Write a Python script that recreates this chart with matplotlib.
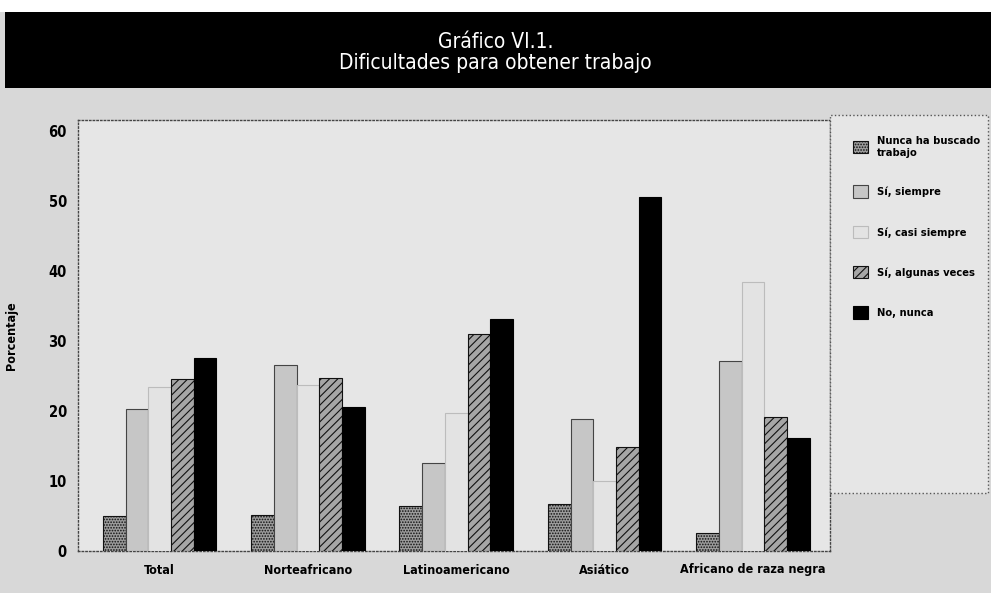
import numpy as np
import matplotlib
matplotlib.use("Agg")
import matplotlib.pyplot as plt
from matplotlib.patches import Rectangle

plt.rcParams['font.family'] = ['Liberation Sans Narrow', 'DejaVu Sans Condensed', 'DejaVu Sans']
plt.rcParams['font.stretch'] = 'condensed'
plt.rcParams['hatch.linewidth'] = 0.8

groups = ["Total", "Norteafricano", "Latinoamericano", "Asiático", "Africano de raza negra"]
series = ["Nunca ha buscado\ntrabajo", "Sí, siempre", "Sí, casi siempre", "Sí, algunas veces", "No, nunca"]

nunca_buscado = [5.0, 5.1, 6.4, 6.7, 2.6]
si_siempre = [20.3, 26.6, 12.6, 18.9, 27.1]
si_casi_siempre = [23.4, 23.7, 19.7, 10.0, 38.4]
si_algunas = [24.6, 24.7, 31.0, 14.9, 19.1]
no_nunca = [27.6, 20.6, 33.1, 50.6, 16.1]

y_ticks = [0, 10, 20, 30, 40, 50, 60]

values = [nunca_buscado, si_siempre, si_casi_siempre, si_algunas, no_nunca]
faces = ['#9c9c9c', '#c6c6c6', '#e3e3e3', '#a6a6a6', '#000000']
edges = ['#111111', '#444444', '#bcbcbc', '#111111', '#000000']
hatches = ['......', '', '', '////', '']

fig = plt.figure(figsize=(9.91, 5.93), dpi=100)
fig.patch.set_facecolor('#d8d8d8')

# white strip at top and black title bar
fig.patches.append(Rectangle((0, 581 / 593), 1, 12 / 593, transform=fig.transFigure,
                             facecolor='white', edgecolor='none', zorder=0))
fig.patches.append(Rectangle((0.005, 505 / 593), 0.995, 76 / 593, transform=fig.transFigure,
                             facecolor='black', edgecolor='none', zorder=0))
fig.text(0.5, 0.930, "Gráfico VI.1.", color='white', fontsize=15, ha='center', va='center')
fig.text(0.5, 0.894, "Dificultades para obtener trabajo", color='white', fontsize=15,
         ha='center', va='center')

# legend panel
fig.patches.append(Rectangle((830 / 991, 100 / 593), 158 / 991, 378 / 593, transform=fig.transFigure,
                             facecolor='#e6e6e6', edgecolor='#555555', linestyle=':',
                             linewidth=1.0, zorder=0))

ax = fig.add_axes([78 / 991, 42 / 593, 752 / 991, 431 / 593])
ax.set_facecolor('#e6e6e6')

x = np.arange(len(groups))
w = 0.153
handles = []
for i, vals in enumerate(values):
    b = ax.bar(x + (i - 2) * w, vals, width=w, color=faces[i], edgecolor=edges[i],
               hatch=hatches[i], linewidth=0.8, label=series[i], zorder=3)
    handles.append(b)

ax.set_xlim(-0.55, 4.52)
ax.set_ylim(0, 61.6)
ax.set_yticks(y_ticks)
ax.set_yticklabels([str(t) for t in y_ticks], fontsize=10.5, fontweight='bold')
ax.set_xticks(x)
ax.set_xticklabels(groups, fontsize=9, fontweight='bold')
ax.tick_params(axis='both', length=0, pad=8)
ax.tick_params(axis='x', pad=9)
ax.set_ylabel("Porcentaje", fontsize=9, fontweight='bold', labelpad=22)

for s in ax.spines.values():
    s.set_linestyle(':')
    s.set_color('#444444')
    s.set_linewidth(1.0)

fig.legend(handles=handles, loc='upper left', bbox_to_anchor=(853 / 991, (593 - 136) / 593),
           frameon=False, prop={'weight': 'bold', 'size': 8},
           handlelength=1.35, handleheight=1.35, handletextpad=0.8,
           labelspacing=2.5, borderaxespad=0, borderpad=0)

fig.savefig("out.png", dpi=100, facecolor=fig.get_facecolor())
